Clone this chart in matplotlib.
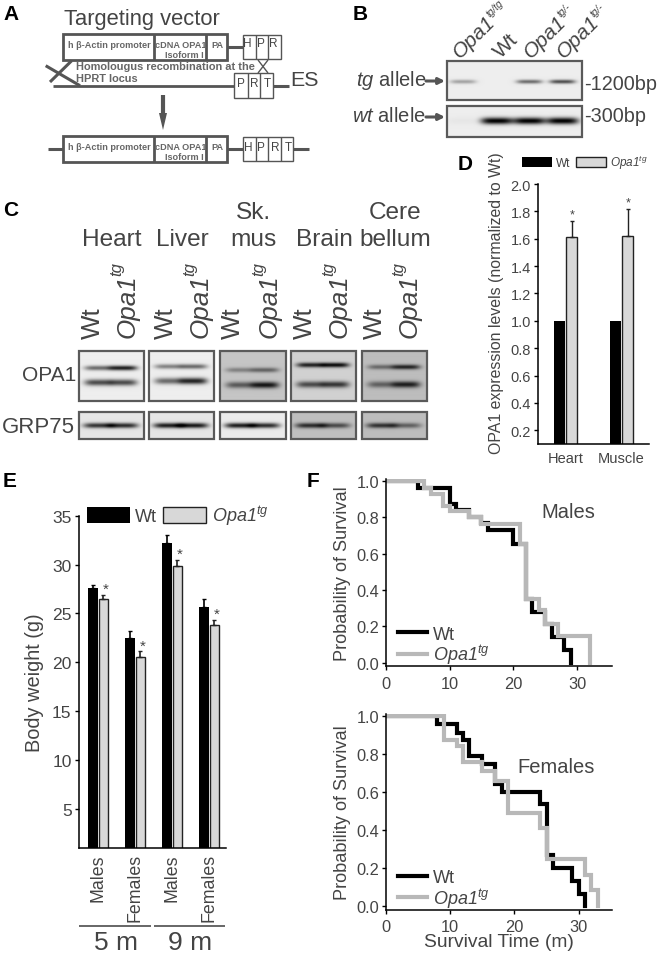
import numpy as np
import matplotlib
matplotlib.use("Agg")
import matplotlib.pyplot as plt
from matplotlib.patches import Rectangle, Polygon
from matplotlib.textpath import TextPath
from matplotlib.font_manager import FontProperties

W, H = 660, 954
TXT = "#444444"
BLACK = "#000000"
LGREY = "#d8d8d8"
CURVE_GREY = "#b8b8b8"

plt.rcParams["font.family"] = ["Liberation Sans", "DejaVu Sans"]
plt.rcParams["mathtext.fontset"] = "custom"
plt.rcParams["mathtext.rm"] = "Liberation Sans"
plt.rcParams["mathtext.it"] = "Liberation Sans:italic"
plt.rcParams["mathtext.cal"] = "Liberation Sans:italic"

OPA_TG = r"$\mathcal{Opa1}^{\mathcal{tg}}$"

# panel D
d_groups = ["Heart", "Muscle"]
d_wt = [1.0, 1.0]
d_tg = [1.61, 1.62]
d_tg_err = [0.12, 0.20]
d_ticks = [0.2, 0.4, 0.6, 0.8, 1.0, 1.2, 1.4, 1.6, 1.8, 2.0]

# panel E
e_groups = ["Males", "Females", "Males", "Females"]
e_wt = [27.6, 22.5, 32.2, 25.7]
e_tg = [26.5, 20.5, 29.8, 23.8]
e_wt_err = [0.35, 0.65, 0.85, 0.75]
e_tg_err = [0.40, 0.60, 0.65, 0.50]
e_ticks = [5, 10, 15, 20, 25, 30, 35]

# panel F survival steps
male_wt_t = [0, 5, 10, 11, 13, 15, 16, 20, 22, 23, 25, 26, 28, 29]
male_wt_p = [1.0, 0.96, 0.87, 0.84, 0.80, 0.77, 0.73, 0.65, 0.35, 0.28, 0.21, 0.14, 0.07, 0.0]
male_tg_t = [0, 6, 7, 9, 10, 13, 15, 21, 22, 24, 25, 27, 32]
male_tg_p = [1.0, 0.96, 0.93, 0.86, 0.835, 0.80, 0.765, 0.65, 0.35, 0.29, 0.215, 0.145, 0.0]
fem_wt_t = [0, 8, 11, 12, 13, 15, 17, 18, 24, 25, 26, 29, 30, 31]
fem_wt_p = [1.0, 0.96, 0.91, 0.875, 0.79, 0.745, 0.64, 0.60, 0.535, 0.27, 0.20, 0.13, 0.065, 0.0]
fem_tg_t = [0, 9, 11, 12, 15, 17, 19, 24, 25, 31, 32, 33]
fem_tg_p = [1.0, 0.875, 0.84, 0.755, 0.71, 0.66, 0.49, 0.41, 0.245, 0.165, 0.085, 0.0]

# gels, band darkness per lane
lane_x = [0.30, 0.68]
c_tissues = ["Heart", "Liver", "Sk.\nmus", "Brain", "Cere\nbellum"]
c_bg_opa = [0.93, 0.93, 0.77, 0.82, 0.74]
c_bg_grp = [0.90, 0.90, 0.92, 0.75, 0.74]
c_opa_up_y = [0.36, 0.33, 0.40, 0.30, 0.34]
c_opa_lo_y = [0.65, 0.62, 0.70, 0.69, 0.69]
c_opa_up = [[0.55, 0.88], [0.45, 0.55], [0.35, 0.50], [0.85, 0.95], [0.45, 0.82]]
c_opa_lo = [[0.68, 0.68], [0.55, 0.85], [0.55, 0.90], [0.65, 0.75], [0.50, 0.85]]
c_grp = [[0.78, 0.82], [0.88, 0.90], [0.88, 0.82], [0.78, 0.62], [0.75, 0.50]]
b_tg_lanes = [0.12, 0.37, 0.61, 0.855]
b_tg = [0.32, 0.0, 0.55, 0.68]
b_wt = [0.03, 1.0, 1.0, 1.0]

fig = plt.figure(figsize=(W / 100, H / 100), dpi=100)
fig.patch.set_facecolor("white")


def axes_px(x0, y0, x1, y1):
    return fig.add_axes([x0 / W, 1 - y1 / H, (x1 - x0) / W, (y1 - y0) / H])


def style(ax, size, pad=2):
    for s in ["top", "right"]:
        ax.spines[s].set_visible(False)
    ax.spines["left"].set_linewidth(1.1)
    ax.spines["bottom"].set_linewidth(1.1)
    ax.patch.set_alpha(0)
    ax.tick_params(labelsize=size, labelcolor=TXT, length=3, width=1, pad=pad)


# overlay in picture pixels for the schematic and blots
ov = fig.add_axes([0, 0, 1, 1], zorder=0)
ov.set_xlim(0, W)
ov.set_ylim(H, 0)
ov.axis("off")


def T(x, y, s, size, ha="left", va="center", **kw):
    kw.setdefault("color", TXT)
    return ov.text(x, y, s, fontsize=size, ha=ha, va=va, **kw)


def L(xs, ys, lw=2.2, c="#555555"):
    ov.plot(xs, ys, color=c, lw=lw, solid_capstyle="butt")


def box(x0, y0, x1, y1, lw=1.0, ec="#555555", fc="none"):
    ov.add_patch(Rectangle((x0, y0), x1 - x0, y1 - y0, fc=fc, ec=ec, lw=lw))


def opa_rot(x, y, size, sup, sup_size, rise, rot):
    # rotated italic label with a small superscript behind it
    T(x, y, "Opa1", size, style="italic", va="baseline", rotation=rot, rotation_mode="anchor")
    fp = FontProperties(family="Liberation Sans", style="italic")
    w = TextPath((0, 0), "Opa1", size=size, prop=fp).get_extents().width * 100 / 72 + 2
    a = np.radians(rot)
    sx = x + w * np.cos(a) - rise * np.sin(a)
    sy = y - w * np.sin(a) - rise * np.cos(a)
    T(sx, sy, sup, sup_size, style="italic", va="baseline", rotation=rot, rotation_mode="anchor")


def gel(x0, y0, x1, y1, bg, bands, lw=1.6):
    # bands: (x fraction, y fraction, darkness, half width px, sigma px)
    nx, ny = int((x1 - x0) * 2), int((y1 - y0) * 2)
    xx, yy = np.meshgrid((np.arange(nx) + 0.5) / 2, (np.arange(ny) + 0.5) / 2)
    img = np.full((ny, nx), bg, dtype=float)
    for fx, fy, amp, hw, sig in bands:
        dx = (xx - fx * (x1 - x0)) / hw
        dy = (yy - fy * (y1 - y0)) / sig
        img -= amp * np.exp(-dx ** 4) * np.exp(-dy ** 2) * bg
    ov.imshow(np.clip(img, 0, 1), extent=(x0, x1, y1, y0), cmap="gray", vmin=0, vmax=1,
              aspect="auto", interpolation="bilinear", zorder=1)
    ov.add_patch(Rectangle((x0, y0), x1 - x0, y1 - y0, fc="none", ec="#5a5a5a", lw=lw, zorder=2))


# panel letters
for x, y, s in [(3, 14, "A"), (353, 14, "B"), (3, 210, "C"), (458, 165, "D"), (3, 482, "E"), (307, 482, "F")]:
    T(x, y, s, 15, color="black", fontweight="bold")

# A: targeting vector
T(64, 19, "Targeting vector", 15.8)
for y0, y1 in [(35, 61), (137, 163)]:
    box(63, y0, 227, y1, lw=2.0)
    L([154, 154], [y0, y1], lw=2.0)
    L([206, 206], [y0, y1], lw=2.0)
    yt = y0 + 10
    T(68, yt, "h β-Actin promoter", 6.6, fontweight="bold", color="#666666")
    T(155, yt, "cDNA OPA1", 6.6, fontweight="bold", color="#666666")
    T(204, yt + 10, "Isoform I", 6.6, ha="right", fontweight="bold", color="#666666")
    T(217, yt, "PA", 6.6, ha="center", fontweight="bold", color="#666666")
L([227, 243], [48, 48])
box(243, 36, 281, 60)
for x in [256, 268]:
    L([x, x], [36, 60], lw=1.0)
for x, s in zip([247, 261, 273], "HPR"):
    T(x, 44, s, 8.5, ha="center")
L([71.7, 50], [61.7, 83], lw=2.2)
L([45.7, 80], [66.7, 86.7], lw=2.2)
L([53, 234], [86.7, 86.7], lw=2.0)
T(76, 67, "Homolougus recombination at the", 7.9, fontweight="bold", color="#666666")
T(76, 79.5, "HPRT locus", 7.9, fontweight="bold", color="#666666")
L([258, 268], [61, 74], lw=1.0)
L([268, 258], [61, 74], lw=1.0)
box(234, 74, 273, 99)
for x in [248, 260]:
    L([x, x], [74, 99], lw=1.0)
for x, s in zip([241, 254, 267], "PRT"):
    T(x, 84, s, 8.5, ha="center")
L([273, 289], [87, 87])
T(290, 80, "ES", 15.4)
L([163, 163], [96, 120], lw=3.0)
ov.add_patch(Polygon([(159, 114), (167, 114), (163, 131)], fc="#555555", ec="none"))
L([48, 63], [150, 150])
L([227, 243], [150, 150])
box(243, 138, 293, 162)
for x in [256, 268, 281]:
    L([x, x], [138, 162], lw=1.0)
for x, s in zip([248, 261, 275, 288], "HPRT"):
    T(x, 148, s, 8.5, ha="center")
L([293, 309], [150, 150])

# B: genotyping gel
gel(447, 62, 582, 101, 0.93, [(f, 0.53, a, 13, 2.0) for f, a in zip(b_tg_lanes, b_tg)])
gel(447, 107, 582, 138, 0.93, [(f, 0.48, a, 16, 3.4) for f, a in zip(b_tg_lanes, b_wt)])
opa_rot(460, 59, 15, "tg/tg", 7.2, 8, 45)
T(501, 59, "Wt", 15, va="baseline", rotation=45, rotation_mode="anchor")
opa_rot(531, 59, 15, "tg/-", 7.2, 8, 45)
opa_rot(564, 59, 15, "tg/-", 7.2, 8, 45)
T(426, 81, r"$\mathcal{tg}$ allele", 14.5, ha="right")
T(426, 116, r"$\mathcal{wt}$ allele", 14.5, ha="right")
for y in [82, 118]:
    ov.annotate("", xy=(445, y), xytext=(426, y),
                arrowprops=dict(arrowstyle="-|>", color="#555555", lw=2.2, mutation_scale=9,
                                shrinkA=0, shrinkB=0))
T(584, 85, "-1200bp", 14.3)
T(584, 117, "-300bp", 14.3)

# C: western blots
c_x = [(79, 144), (149, 214), (220, 286), (291, 356), (362, 427)]
c_name_x = [112, 182, 253, 324, 395]
c_wt_x = [93, 166, 233, 305, 375]
c_tg_x = [135, 208, 277, 347, 417]
for i, (x0, x1) in enumerate(c_x):
    opa = []
    for j, fx in enumerate(lane_x):
        opa.append((fx, c_opa_up_y[i], c_opa_up[i][j], 14, 2.4))
        opa.append((fx, c_opa_lo_y[i], c_opa_lo[i][j], 14, 3.2))
    gel(x0, 352, x1, 401.5, c_bg_opa[i], opa)
    gel(x0, 413, x1, 440, c_bg_grp[i], [(fx, 0.5, c_grp[i][j], 15, 2.6) for j, fx in enumerate(lane_x)])
    T(c_name_x[i], 240, c_tissues[i].split("\n")[-1], 17.6, ha="center")
    if "\n" in c_tissues[i]:
        T(c_name_x[i], 213, c_tissues[i].split("\n")[0], 17.6, ha="center")
    T(c_wt_x[i], 339, "Wt", 18.7, ha="center", va="bottom", rotation=90)
    opa_rot(c_tg_x[i], 338, 18.7, "tg", 12, 14, 90)
T(76, 376, "OPA1", 15, ha="right")
T(75, 428, "GRP75", 16, ha="right")

# D: expression bars
ax_d = axes_px(537.7, 185, 649, 445)
ax_d.set_xlim(-0.5, 1.49)
ax_d.set_ylim(0.1, 2.0)
xd = np.arange(len(d_groups))
bar_w = 0.2
d1 = ax_d.bar(xd - bar_w / 2 - 0.01, d_wt, bar_w, color=BLACK, label="Wt")
d2 = ax_d.bar(xd + bar_w / 2 + 0.01, d_tg, bar_w, color=LGREY, edgecolor="#222222", lw=1.0, label=OPA_TG)
ax_d.errorbar(xd + bar_w / 2 + 0.01, d_tg, yerr=[np.zeros(2), d_tg_err], fmt="none", ecolor="#222222",
              elinewidth=1.0, capsize=1.5, capthick=1.0)
for x, top, err in zip(xd, d_tg, d_tg_err):
    ax_d.text(x + bar_w / 2 + 0.01, top + err + 0.005, "*", fontsize=9, ha="center", va="bottom", color=TXT)
ax_d.set_xticks(xd, d_groups)
ax_d.set_yticks(d_ticks, [f"{v:.1f}" for v in d_ticks])
ax_d.set_ylabel("OPA1 expression levels (normalized to Wt)", fontsize=11.4, color=TXT)
ax_d.yaxis.set_label_coords(-0.30, 0.546)
style(ax_d, 10.5)
ax_d.tick_params(axis="x", length=0, pad=5)
ax_d.legend(handles=[d1, d2], loc="lower left", bbox_to_anchor=(-0.14, 1.05), ncol=2, frameon=False,
            fontsize=8.5, labelcolor=TXT, handlelength=2.5, handleheight=1.0, columnspacing=0.5,
            handletextpad=0.35, borderpad=0, borderaxespad=0)

# E: body weight bars
ax_e = axes_px(78.5, 516.7, 226, 848.7)
ax_e.set_xlim(-0.527, 3.46)
ax_e.set_ylim(1, 35)
xe = np.arange(len(e_groups))
bw = 0.27
e1 = ax_e.bar(xe - bw / 2 - 0.01, e_wt, bw, color=BLACK, label="Wt")
e2 = ax_e.bar(xe + bw / 2 + 0.01, e_tg, bw * 0.85, color=LGREY, edgecolor="#222222", lw=1.0, label=OPA_TG)
ax_e.errorbar(xe - bw / 2 - 0.01, e_wt, yerr=[np.zeros(4), e_wt_err], fmt="none", ecolor=BLACK,
              elinewidth=1.2, capsize=1.5, capthick=1.0)
ax_e.errorbar(xe + bw / 2 + 0.01, e_tg, yerr=[np.zeros(4), e_tg_err], fmt="none", ecolor="#222222",
              elinewidth=1.2, capsize=1.5, capthick=1.0)
for x, top, err in zip(xe, e_tg, e_tg_err):
    ax_e.text(x + bw / 2 + 0.07, top + err - 0.1, "*", fontsize=11, ha="center", va="bottom", color=TXT)
ax_e.set_xticks(xe, e_groups, rotation=90)
ax_e.set_yticks(e_ticks)
ax_e.set_ylabel("Body weight (g)", fontsize=14.4, color=TXT, labelpad=6)
style(ax_e, 12.6)
ax_e.tick_params(axis="x", length=0, pad=4, labelsize=12.8)
ax_e.legend(handles=[e1, e2], loc="lower left", bbox_to_anchor=(0.055, 0.965), ncol=2, frameon=False,
            fontsize=13, labelcolor=TXT, handlelength=2.4, handleheight=1.0, columnspacing=0.3,
            handletextpad=0.3, borderpad=0, borderaxespad=0)
L([79, 151], [927, 927], lw=1.4, c="#666666")
L([154, 225], [927, 927], lw=1.4, c="#666666")
T(116, 943, "5 m", 19, ha="center")
T(190, 943, "9 m", 19, ha="center")


# F: survival curves
def survival(box_px, xmax, wt_t, wt_p, tg_t, tg_p, title, title_xy, legend_y):
    ax = axes_px(*box_px)
    ax.set_xlim(0, xmax)
    ax.set_ylim(-0.02, 1.01)
    ax.step(wt_t, wt_p, where="post", color=BLACK, lw=3.0, label="Wt", solid_joinstyle="miter")
    ax.step(tg_t, tg_p, where="post", color=CURVE_GREY, lw=3.0, label=OPA_TG, solid_joinstyle="miter")
    ax.set_xticks([0, 10, 20, 30])
    ax.set_yticks([0, 0.2, 0.4, 0.6, 0.8, 1.0], ["0.0", "0.2", "0.4", "0.6", "0.8", "1.0"])
    ax.set_ylabel("Probability of Survival", fontsize=13.1, color=TXT, labelpad=4)
    style(ax, 11.8)
    ax.tick_params(axis="x", pad=4)
    ax.legend(loc="lower left", bbox_to_anchor=(0.055, legend_y), frameon=False, fontsize=13,
              labelcolor=TXT, handlelength=1.6, handletextpad=0.3, labelspacing=0.0,
              borderpad=0, borderaxespad=0)
    T(title_xy[0], title_xy[1], title, 14.5)
    return ax


survival((386, 480, 612, 667.3), 35.5, male_wt_t, male_wt_p, male_tg_t, male_tg_p, "Males", (541, 513), 0.0)
ax_f2 = survival((386, 715, 612, 910.7), 35.2, fem_wt_t, fem_wt_p, fem_tg_t, fem_tg_p, "Females", (517, 768), 0.0)
ax_f2.set_xlabel("Survival Time (m)", fontsize=13.9, color=TXT, labelpad=-1)

fig.savefig("out.png", dpi=100)
